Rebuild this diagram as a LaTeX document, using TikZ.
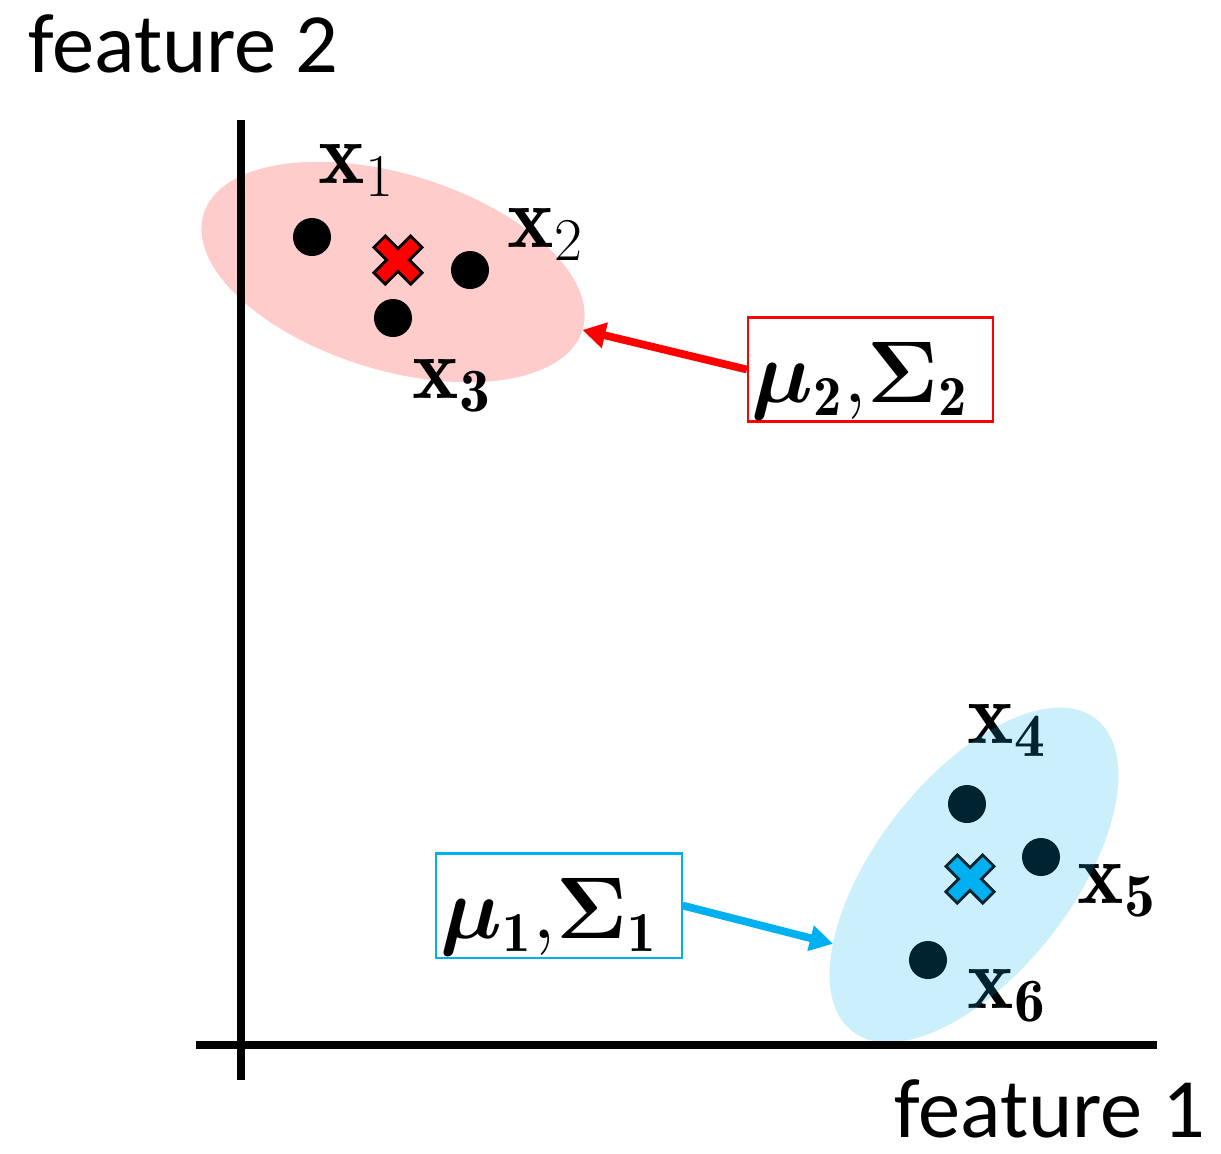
\documentclass[tikz,border=0pt]{standalone}
\usepackage{fontspec}
\usepackage{bm}
\usetikzlibrary{shapes.geometric, arrows.meta, positioning}
\newfontfamily\axisfont{Carlito}
\definecolor{gmRed}{HTML}{FF0000}
\definecolor{gmRedBg}{HTML}{FFCCCC}
\definecolor{gmBlue}{HTML}{00B0F0}
\definecolor{gmInk}{HTML}{0B2530}
\tikzset{
  axis/.style={line width=2.2pt, black},
  axislbl/.style={anchor=base west, inner sep=0pt, text depth=0pt, font=\axisfont\fontsize{24}{28}\selectfont},
  pt/.style={circle, fill=black, minimum size=0.38cm, inner sep=0pt},
  ptlbl/.style={anchor=base west, inner sep=0pt, font=\fontsize{25}{30}\selectfont},
  cluster/.style={ellipse, minimum width=3.96cm, minimum height=1.96cm, inner sep=0pt, outer sep=0pt},
  meanbox/.style={rectangle, draw, line width=0.6pt, minimum width=2.45cm, minimum height=1.04cm,
    inner sep=0pt, text width=2.37cm, align=left, text height=23.9pt, text depth=5.4pt,
    font=\fontsize{23}{28}\selectfont},
  meanarrow/.style={-{Triangle[length=0.23cm, width=0.25cm]}, line width=2.2pt},
  centroid/.pic={
    \path[pic actions, rotate=45, line width=0.8pt]
      (-8,-26) -- (8,-26) -- (8,-8) -- (26,-8) -- (26,8) -- (8,8) -- (8,26)
      -- (-8,26) -- (-8,8) -- (-26,8) -- (-26,-8) -- (-8,-8) -- cycle;
  }
}

\begin{document}
\begin{tikzpicture}[x=0.01cm, y=-0.01cm]
  \useasboundingbox (0,0) rectangle (1221,1153);

  % cluster 2 (red)
  \node[cluster, fill=gmRedBg, rotate=-17] (c2) at (393,272) {};
  \foreach \n/\x/\y in {1/312/237, 2/470/270, 3/393/318}
    \node[pt] (x\n) at (\x,\y) {};
  \pic[fill=gmRed, draw=black] (m2) at (398,260) {centroid};

  % cluster 1 (blue)
  \foreach \n/\x/\y in {4/967/804, 5/1041/857, 6/928/960}
    \node[pt] (x\n) at (\x,\y) {};

  \foreach \n/\x/\y/\sub in {1/318/183/1, 2/507/247/2, 3/412/398/\mathbf{3},
      4/967/743/\mathbf{4}, 5/1077/903/\mathbf{5}, 6/967/1008/\mathbf{6}}
    \node[ptlbl] (l\n) at (\x,\y) {$\mathbf{x}_{\sub}$};

  \node[cluster, fill=gmBlue, fill opacity=0.2, rotate=52] (c1) at (974,875) {};
  \pic[fill=gmBlue, draw=gmInk] (m1) at (970,879) {centroid};

  % parameters
  \node[meanbox, draw=gmRed] (b2) at (870.5,369.5) {$\bm{\mu}_{\mathbf{2}},\!\bm{\Sigma}_{\mathbf{2}}$};
  \node[meanbox, draw=gmBlue] (b1) at (559,905.5) {$\bm{\mu}_{\mathbf{1}},\!\bm{\Sigma}_{\mathbf{1}}$};
  \draw[meanarrow, gmRed] (b2.west) -- (c2.east);
  \draw[meanarrow, gmBlue] (b1.east) -- (c1.154);

  % axes
  \draw[axis] (241,120) -- (241,1080);
  \draw[axis] (196,1045) -- (1157,1045);
  \node[axislbl] (f2) at (28,72) {feature 2};
  \node[axislbl] (f1) at (894,1137) {feature 1};
\end{tikzpicture}
\end{document}
